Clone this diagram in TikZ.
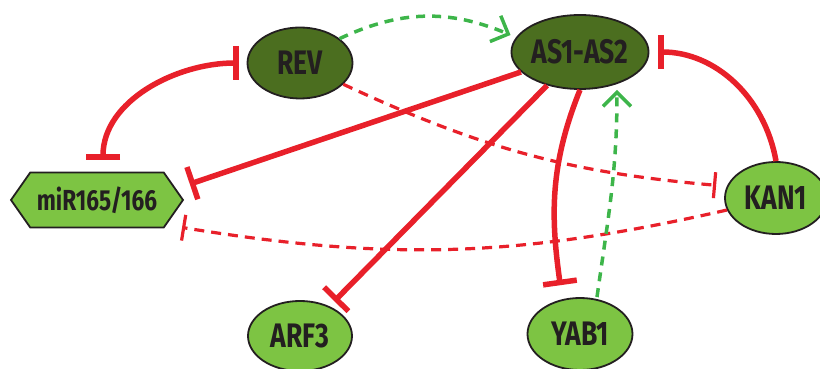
\documentclass[tikz,border=0pt]{standalone}
\usepackage{fontspec}
\newfontfamily\genefont{Fira Sans}[FakeStretch=0.78,Numbers=Proportional]
\usetikzlibrary{arrows.meta,shapes.geometric,shapes.symbols}
\definecolor{inhred}{HTML}{E8202A}
\definecolor{actgreen}{HTML}{3DB54A}
\definecolor{darkgene}{HTML}{4B6E1F}
\definecolor{lightgene}{HTML}{7DC443}
\definecolor{genetext}{HTML}{231F20}
\tikzset{
  gene/.style={ellipse,draw=genetext,line width=1.8pt,inner sep=0pt,
    text=genetext,font=\genefont\bfseries\fontsize{34}{36}\selectfont},
  dark/.style={gene,fill=darkgene},
  light/.style={gene,fill=lightgene},
  inhib/.style={draw=inhred,line width=5.5pt,-{Bar[width=34pt]}},
  inhibdash/.style={draw=inhred,line width=3.2pt,dash pattern=on 10pt off 7pt,
    -{Bar[width=26pt]}},
  act/.style={draw=actgreen,line width=3.5pt,dash pattern=on 9pt off 7pt,
    -{Straight Barb[length=14pt,width=28pt]}}
}
\begin{document}
\begin{tikzpicture}[x=1pt,y=1pt]
  \useasboundingbox (0,0) rectangle (820,369);
  \node[dark,minimum width=105pt,minimum height=71pt] (REV) at (300,306) {REV};
  \node[dark,minimum width=120pt,minimum height=74pt] (AS) at (580,317) {AS1-AS2};
  \node[light,minimum width=102pt,minimum height=72pt] (KAN1) at (776,171) {KAN1};
  \node[light,minimum width=104pt,minimum height=70pt] (ARF3) at (300,33) {ARF3};
  \node[light,minimum width=105pt,minimum height=72pt] (YAB1) at (580,35) {YAB1};
  \node[gene,signal,signal to=west and east,signal pointer angle=110,
    fill=lightgene,minimum width=172pt,minimum height=55pt,
    font=\genefont\bfseries\fontsize{29}{31}\selectfont] (miR) at (97,169) {miR165/166};
  \draw[inhib,{Bar[width=34pt]}-{Bar[width=34pt]},shorten <=12pt,shorten >=8pt]
    ([xshift=6pt]miR.north) to[out=90,in=180] (REV.west);
  \draw[inhib,shorten >=6pt] (AS) -- ([yshift=14pt]miR.east);
  \draw[inhib,shorten >=7pt] (AS) -- (ARF3);
  \draw[inhib,shorten >=12pt] (AS.south) to[out=-112,in=98] ([xshift=-18pt]YAB1.north);
  \draw[inhib,shorten >=9pt] (KAN1.north) to[out=100,in=0] (AS.east);
  \draw[inhibdash,shorten >=8pt] (REV) to[bend right=10] ([yshift=12pt]KAN1.west);
  \draw[inhibdash,shorten >=3pt] (KAN1) to[bend left=11] ([shift={(-5,-27)}]miR.east);
  \draw[act] (REV) to[bend left=24] ([yshift=17pt]AS.west);
  \draw[act] ([xshift=17pt]YAB1.north) to[out=82,in=-90] ([xshift=37pt]AS.south);
\end{tikzpicture}
\end{document}
